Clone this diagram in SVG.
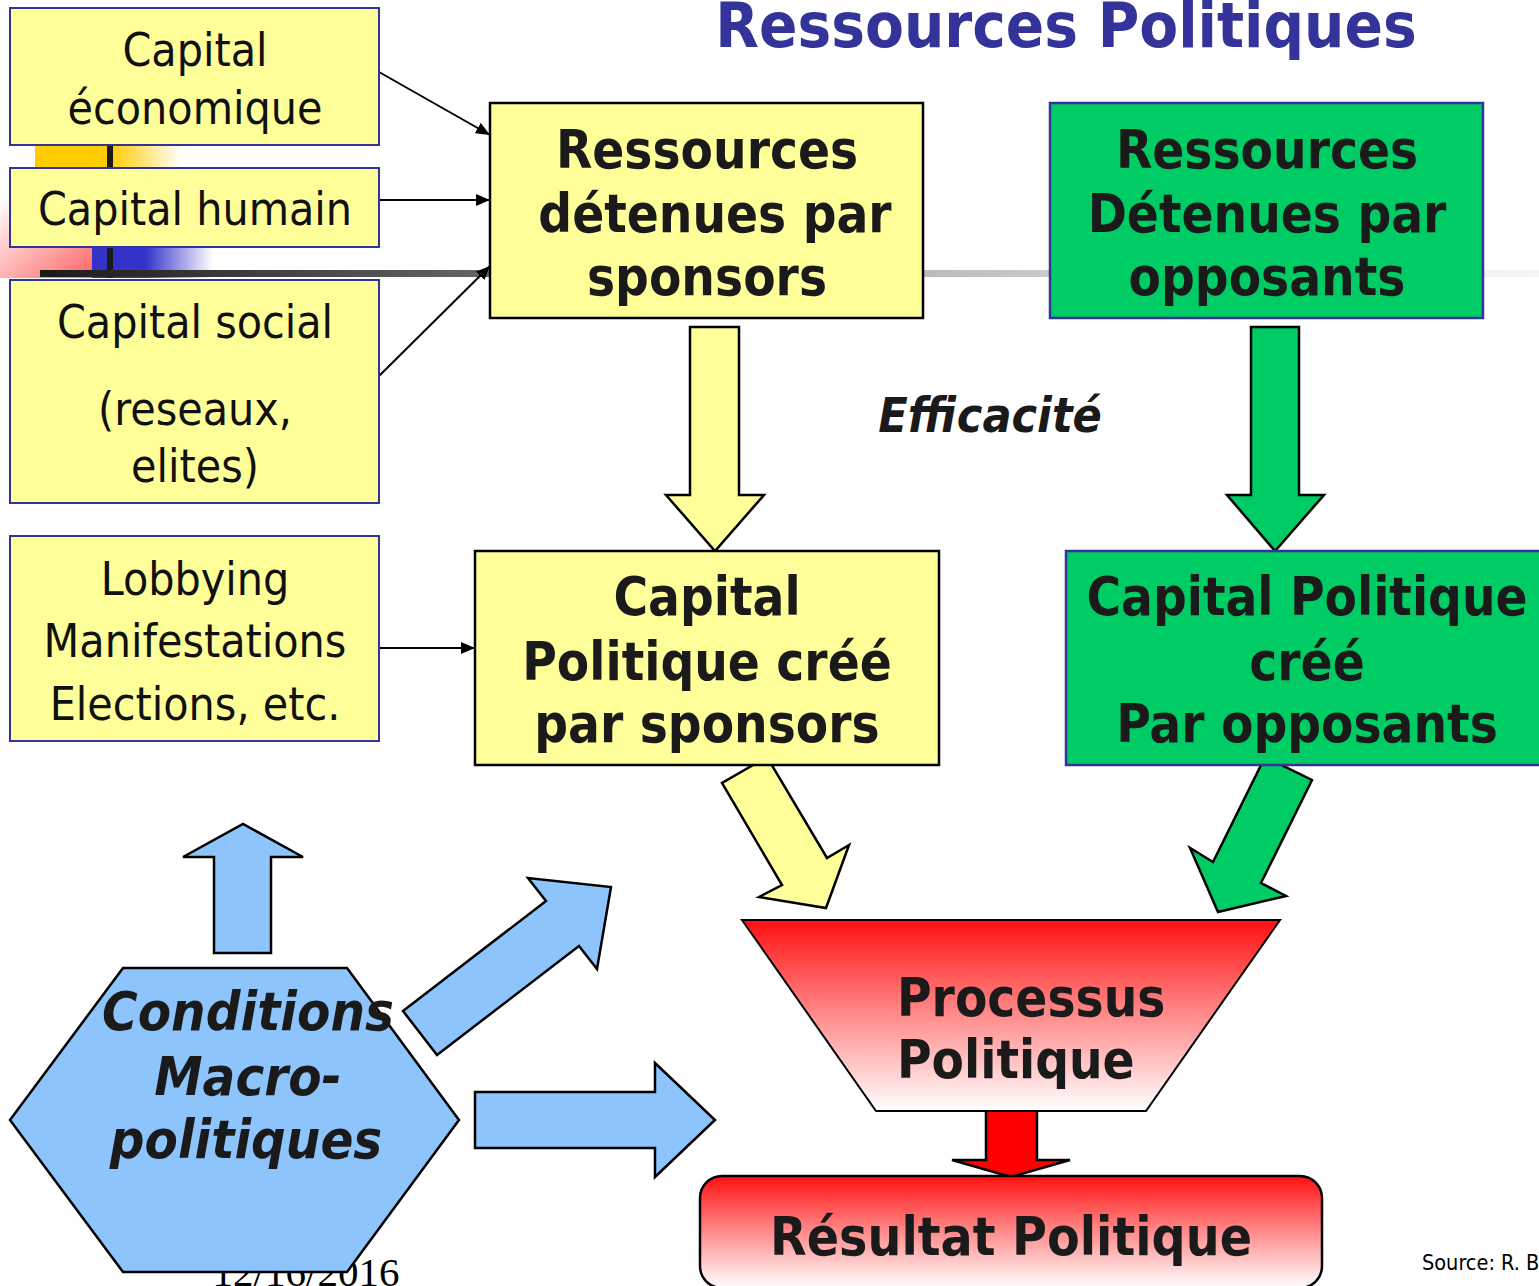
<svg xmlns="http://www.w3.org/2000/svg" width="1539" height="1286" viewBox="0 0 1539 1286">
<defs>
<style>
.t{font-family:"DejaVu Sans Condensed","DejaVu Sans",sans-serif;font-stretch:condensed;fill:#111;text-anchor:middle}
.n{font-size:46px}
.b{font-size:52.5px;font-weight:bold;fill:#1a1a1a}
.bi{font-weight:bold;font-style:italic;fill:#1a1a1a}
.yb{fill:#FFFF99;stroke:#333399;stroke-width:2}
.yk{fill:#FFFF99;stroke:#000;stroke-width:2.5}
.gb{fill:#00CC66;stroke:#333399;stroke-width:2.5}
.ln{stroke:#000;stroke-width:2;fill:none;marker-end:url(#ah)}
.blue{fill:#8DC4FC;stroke:#000;stroke-width:2.5;stroke-linejoin:miter}
.ya{fill:#FFFF99;stroke:#000;stroke-width:2.5}
.ga{fill:#00CC66;stroke:#000;stroke-width:2.5}
</style>
<marker id="ah" markerWidth="14" markerHeight="12" refX="14" refY="6" orient="auto" markerUnits="userSpaceOnUse">
<path d="M0,0 L14,6 L0,12 Z" fill="#000"/>
</marker>
<linearGradient id="hl" x1="0" y1="0" x2="1" y2="0">
<stop offset="0" stop-color="#1a1a1a"/>
<stop offset="0.3" stop-color="#666"/>
<stop offset="0.6" stop-color="#bdbdbd"/>
<stop offset="0.8" stop-color="#e0e0e0"/>
<stop offset="1" stop-color="#f6f6f6"/>
</linearGradient>
<linearGradient id="yg" x1="0" y1="0" x2="1" y2="0">
<stop offset="0" stop-color="#FFCC00"/>
<stop offset="1" stop-color="#FFCC00" stop-opacity="0"/>
</linearGradient>
<linearGradient id="bg" x1="0" y1="0" x2="1" y2="0">
<stop offset="0" stop-color="#3333CC"/>
<stop offset="1" stop-color="#3333CC" stop-opacity="0"/>
</linearGradient>
<linearGradient id="rg" x1="1" y1="1" x2="0" y2="0">
<stop offset="0" stop-color="#FF6666"/>
<stop offset="1" stop-color="#FF6666" stop-opacity="0"/>
</linearGradient>
<linearGradient id="red" x1="0" y1="0" x2="0" y2="1">
<stop offset="0" stop-color="#FF1010"/>
<stop offset="0.45" stop-color="#FF8080"/>
<stop offset="1" stop-color="#FFFFFF"/>
</linearGradient>
</defs>

<g id="decoration">
<rect x="0" y="200" width="92" height="78" fill="url(#rg)"/>
<rect x="35" y="145" width="75" height="23" fill="#FFCC00"/>
<rect x="110" y="145" width="72" height="23" fill="url(#yg)"/>
<rect x="92" y="247" width="53" height="31" fill="#3333CC"/>
<rect x="145" y="247" width="68" height="31" fill="url(#bg)"/>
<rect x="107" y="145" width="6" height="133" fill="#1a1a1a"/>
<rect x="40" y="270" width="1499" height="7" fill="url(#hl)"/>
</g>

<text x="1066" y="47" style="font-family:'DejaVu Sans Condensed','DejaVu Sans',sans-serif;font-stretch:condensed;font-weight:bold;font-size:63px;fill:#333399;text-anchor:middle">Ressources Politiques</text>

<text x="306" y="1286" style="font-family:'Liberation Serif',serif;font-size:41px;fill:#000;text-anchor:middle">12/16/2016</text>
<text x="1422" y="1270" style="font-family:'DejaVu Sans Condensed','DejaVu Sans',sans-serif;font-stretch:condensed;font-size:21.5px;fill:#000">Source: R. B</text>

<g id="connectors">
<line class="ln" x1="379" y1="72" x2="490" y2="135"/>
<line class="ln" x1="379" y1="200" x2="490" y2="200"/>
<line class="ln" x1="379" y1="376" x2="490" y2="266"/>
<line class="ln" x1="379" y1="648" x2="475" y2="648"/>
<polygon class="ya" points="690,327 739,327 739,495 764,495 715,551 666,495 690,495"/>
<polygon class="ga" points="1251,327 1299,327 1299,495 1324,495 1275,551 1227,495 1251,495"/>
<polygon class="ya" points="767,757 722,783 782,885 759,897 826,908 849,845 827,858"/>
<polygon class="ga" points="1265,757 1312,780 1261,883 1286,896 1218,912 1190,848 1213,862"/>
<polygon class="blue" points="214,953 214,857 183,857 243,824 303,857 271,857 271,953"/>
<polygon class="blue" points="403,1011 546,901 528,878 611,887 597,969 579,946 437,1055"/>
<polygon class="blue" points="475,1092 655,1092 655,1063 715,1120 655,1177 655,1148 475,1148"/>
<polygon points="986,1110 1037,1110 1037,1160 1070,1160 1011,1177 952,1160 986,1160" fill="#FF0000" stroke="#000" stroke-width="2.5"/>
</g>

<g id="n-capital-economique">
<rect class="yb" x="10" y="8" width="369" height="137"/>
<text class="t n" x="195" y="66">Capital</text>
<text class="t n" x="195" y="124">économique</text>
</g>
<g id="n-capital-humain">
<rect class="yb" x="10" y="168" width="369" height="79"/>
<text class="t n" x="195" y="225">Capital humain</text>
</g>
<g id="n-capital-social">
<rect class="yb" x="10" y="280" width="369" height="223"/>
<text class="t n" x="195" y="338">Capital social</text>
<text class="t n" x="195" y="425">(reseaux,</text>
<text class="t n" x="195" y="482">elites)</text>
</g>
<g id="n-lobbying">
<rect class="yb" x="10" y="536" width="369" height="205"/>
<text class="t n" x="195" y="595">Lobbying</text>
<text class="t n" x="195" y="657">Manifestations</text>
<text class="t n" x="195" y="720">Elections, etc.</text>
</g>

<g id="n-ressources-sponsors">
<rect class="yk" x="490" y="103" width="433" height="215"/>
<text class="t b" x="707" y="168">Ressources</text>
<text class="t b" x="715" y="232">détenues par</text>
<text class="t b" x="707" y="295">sponsors</text>
</g>
<g id="n-ressources-opposants">
<rect class="gb" x="1050" y="103" width="433" height="215"/>
<text class="t b" x="1267" y="168">Ressources</text>
<text class="t b" x="1267" y="232">Détenues par</text>
<text class="t b" x="1267" y="295">opposants</text>
</g>

<text class="t bi" x="990" y="432" style="font-size:48px">Efficacité</text>

<g id="n-capital-sponsors">
<rect class="yk" x="475" y="551" width="464" height="214"/>
<text class="t b" x="707" y="615">Capital</text>
<text class="t b" x="707" y="680">Politique créé</text>
<text class="t b" x="707" y="742">par sponsors</text>
</g>
<g id="n-capital-opposants">
<rect class="gb" x="1066" y="551" width="480" height="214"/>
<text class="t b" x="1307" y="615">Capital Politique</text>
<text class="t b" x="1307" y="680">créé</text>
<text class="t b" x="1307" y="742">Par opposants</text>
</g>

<g id="n-processus">
<polygon points="742,920 1280,920 1146,1111 876,1111" fill="url(#red)" stroke="#000" stroke-width="2"/>
<text class="t b" x="897" y="1016" style="text-anchor:start">Processus</text>
<text class="t b" x="897" y="1078" style="text-anchor:start">Politique</text>
</g>

<g id="n-resultat">
<rect x="700" y="1176" width="622" height="112" rx="22" fill="url(#red)" stroke="#000" stroke-width="2.5"/>
<text class="t b" x="1011" y="1255" style="font-size:53px">Résultat Politique</text>
</g>

<g id="n-conditions">
<polygon class="blue" points="123,968 347,968 459,1120 347,1272 123,1272 10,1120"/>
<text class="t bi" x="248" y="1030" style="font-size:54px">Conditions</text>
<text class="t bi" x="248" y="1095" style="font-size:54px">Macro-</text>
<text class="t bi" x="246" y="1158" style="font-size:54px">politiques</text>
</g>
</svg>
